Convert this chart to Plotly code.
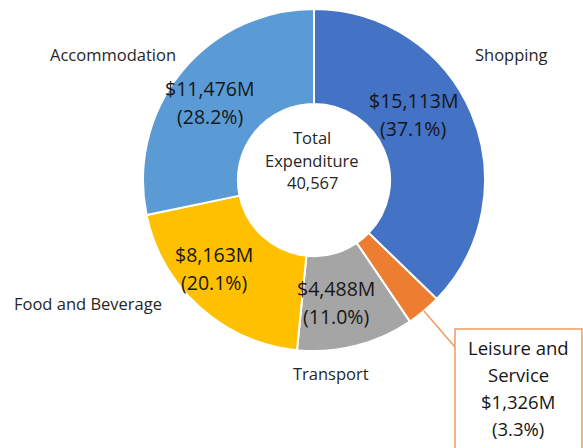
import math
import plotly.graph_objects as go

# Visitor expenditure by category (HK$ million)
categories = ["Shopping", "Leisure and Service", "Transport", "Food and Beverage", "Accommodation"]
values = [15113, 1326, 4488, 8163, 11476]
percent_labels = ["37.1%", "3.3%", "11.0%", "20.1%", "28.2%"]
total_label = "40,567"
colors = ["#4472C4", "#ED7D31", "#A5A5A5", "#FFC000", "#5B9BD5"]

W, H = 583, 448
CX, CY, R = 314, 180, 171      # donut centre and outer radius in px
HOLE = 0.445
FONT = "Open Sans"
TEXT = "#262626"
CALLOUT = "#F09A60"


def px(x, y):
    """Pixel position (from top-left) to paper coordinates."""
    return x / W, 1 - y / H


fig = go.Figure(go.Pie(
    labels=categories,
    values=values,
    sort=False,
    direction="clockwise",
    rotation=0,
    hole=HOLE,
    marker=dict(colors=colors, line=dict(color="white", width=2)),
    textinfo="none",
    hoverinfo="label+value+percent",
    showlegend=False,
    domain=dict(x=[(CX - R) / W, (CX + R) / W],
                y=[(H - CY - R) / H, (H - CY + R) / H]),
))

annotations = []


def add_lines(x, yc, lines, size, spacing, color=TEXT):
    n = len(lines)
    for i, line in enumerate(lines):
        y = yc + (i - (n - 1) / 2) * spacing
        ax, ay = px(x, y)
        annotations.append(dict(
            x=ax, y=ay, xref="paper", yref="paper", text=line, showarrow=False,
            xanchor="center", yanchor="middle",
            font=dict(family=FONT, size=size, color=color)))


# slice angles (clockwise from 12 o'clock)
total = sum(values)
mids = []
acc = 0
for v in values:
    mids.append((acc + v / 2) / total * 2 * math.pi)
    acc += v

# value labels inside the ring, nudged from the slice mid-point
label_r = 124
nudge = {"Shopping": (-15, -17), "Transport": (-8, 2),
         "Food and Beverage": (-17, -4), "Accommodation": (-8, 1)}
for cat, v, p, a in zip(categories, values, percent_labels, mids):
    if cat not in nudge:
        continue
    dx, dy = nudge[cat]
    x = CX + label_r * math.sin(a) + dx
    y = CY - label_r * math.cos(a) + dy
    add_lines(x, y, [f"${v:,}M", f"({p})"], 19.5, 28, "#161616")

# category names around the ring
name_pos = {"Shopping": (511, 55), "Accommodation": (113, 55),
            "Food and Beverage": (88, 303), "Transport": (331, 373)}
for cat, (x, y) in name_pos.items():
    add_lines(x, y, [cat], 16.5, 0)

# centre text
add_lines(312, 160, ["Total", "Expenditure", total_label], 16.5, 23)

# callout for the small slice
i = categories.index("Leisure and Service")
a = mids[i]
sx, sy = CX + R * math.sin(a), CY - R * math.cos(a)
box_l, box_t = 455, 329
x0, y0 = px(sx, sy)
x1, y1 = px(box_l, 347)
bx0, by0 = px(box_l, box_t)
bx1, by1 = px(582, H + 10)
shapes = [
    dict(type="line", xref="paper", yref="paper", x0=x0, y0=y0, x1=x1, y1=y1,
         line=dict(color=CALLOUT, width=1.5)),
    dict(type="rect", xref="paper", yref="paper", x0=bx0, y0=by1, x1=bx1, y1=by0,
         line=dict(color=CALLOUT, width=1.5), fillcolor="white"),
]
add_lines(518, 388, ["Leisure and", "Service", f"${values[i]:,}M", f"({percent_labels[i]})"],
          18.5, 26.7, "#161616")

fig.update_layout(
    width=W, height=H,
    margin=dict(l=0, r=0, t=0, b=0),
    paper_bgcolor="white", plot_bgcolor="white",
    annotations=annotations, shapes=shapes,
    font=dict(family=FONT),
)

fig.write_html("out.html")
